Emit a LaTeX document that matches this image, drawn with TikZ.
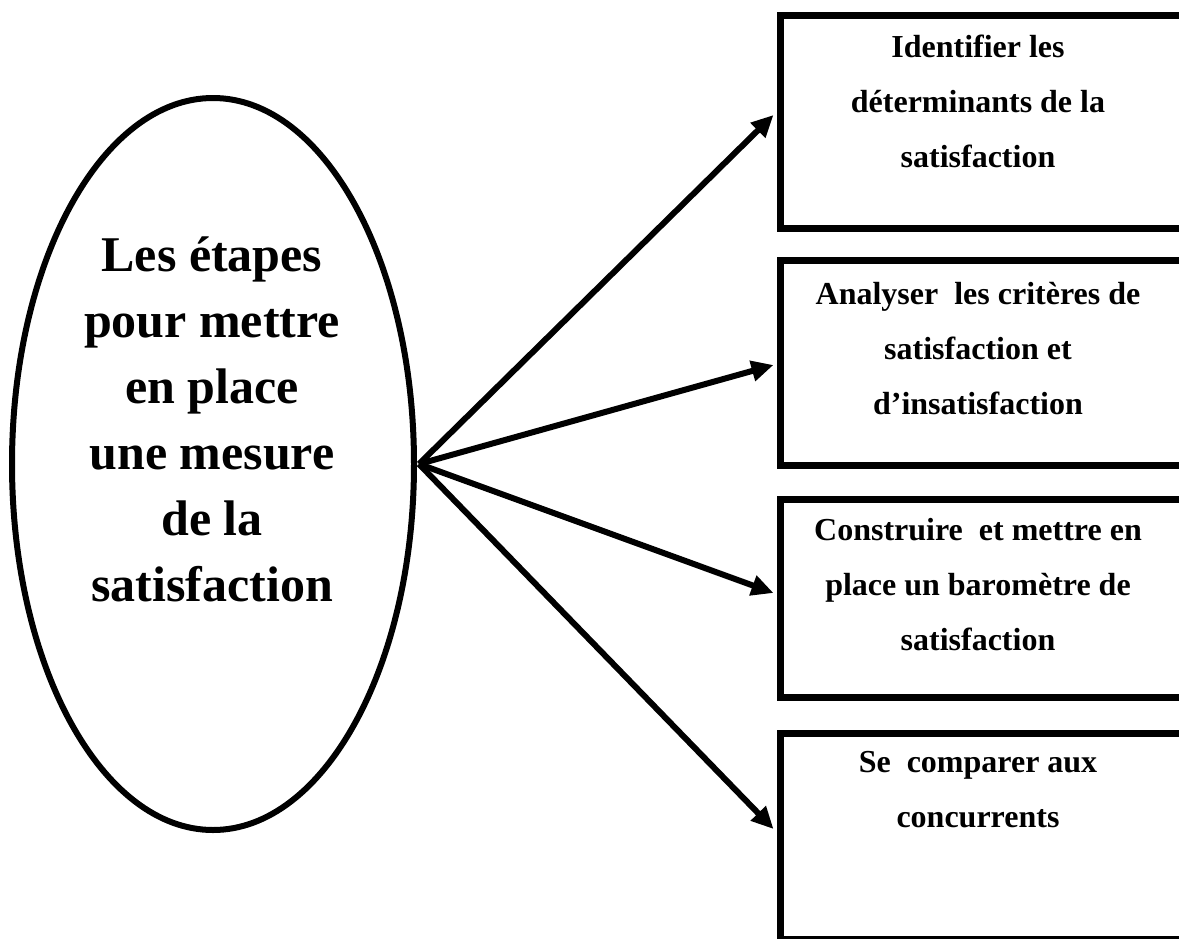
\documentclass[tikz,border=0pt]{standalone}
\usepackage{fontspec}
\setmainfont{Liberation Serif}
\usetikzlibrary{arrows.meta,shapes.geometric}
\tikzset{
  ovalshape/.style={draw, ellipse, line width=6pt, inner sep=0pt, minimum width=402pt, minimum height=732pt},
  stepbox/.style={draw, rectangle, line width=7pt, inner sep=0pt, minimum width=408pt},
  boxtext/.style={align=center, font=\fontsize{32pt}{55pt}\selectfont\bfseries, inner sep=0pt},
  ovaltext/.style={align=center, font=\fontsize{50pt}{66pt}\selectfont\bfseries, inner sep=0pt},
  link/.style={line width=6pt, -{Triangle[length=22pt,width=20pt]}}
}
\begin{document}
\begin{tikzpicture}[x=1pt,y=-1pt]
\path[use as bounding box] (0,0) rectangle (1179,938);
\clip (0,0) rectangle (1179,938);
\node[ovalshape] (e) at (213,464) {};
\node[ovaltext] (et) at (212,419) {Les étapes\\pour mettre\\en place\\une mesure\\de la\\satisfaction};

\node[stepbox, minimum height=213.5pt, anchor=north west] (b1) at (777,11.5) {};
\node[stepbox, minimum height=205pt, anchor=north west] (b2) at (777,257) {};
\node[stepbox, minimum height=198pt, anchor=north west] (b3) at (777,496) {};
\node[stepbox, minimum height=206pt, anchor=north west] (b4) at (777,730) {};

\node[boxtext] (t1) at (978,101) {Identifier les\\déterminants de la\\satisfaction};
\node[boxtext] (t2) at (978,349) {Analyser\ \ les critères de\\satisfaction et\\d’insatisfaction};
\node[boxtext] (t3) at (978,585) {Construire\ \ et mettre en\\place un baromètre de\\satisfaction};
\node[boxtext] (t4) at (978,790) {Se\ \ comparer aux\\concurrents};

\coordinate (a1) at (b1.west |- 0,115);
\coordinate (a2) at (b2.west |- 0,365);
\coordinate (a3) at (b3.west |- 0,593);
\coordinate (a4) at (b4.west |- 0,829);
\draw[link] ([xshift=2pt]e.east) -- ([xshift=-3.5pt]a1);
\draw[link] ([xshift=2pt]e.east) -- ([xshift=-3.5pt]a2);
\draw[link] ([xshift=2pt]e.east) -- ([xshift=-3.5pt]a3);
\draw[link] ([xshift=2pt]e.east) -- ([xshift=-3.5pt]a4);
\end{tikzpicture}
\end{document}
